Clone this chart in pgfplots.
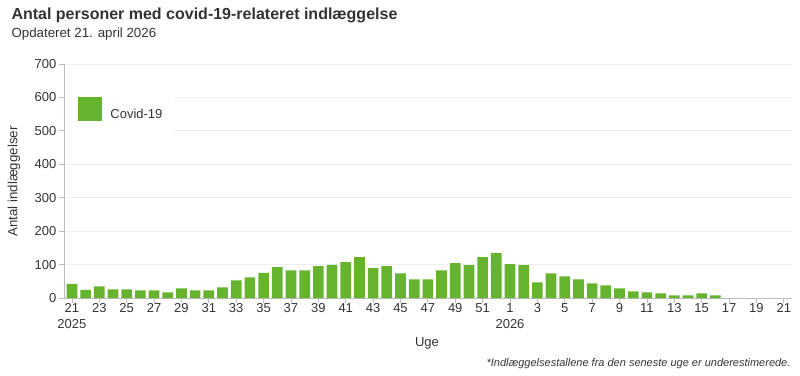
\documentclass[border=0pt]{standalone}
\usepackage{fontspec}
\setmainfont{Liberation Sans}
\usepackage{pgfplots}
\pgfplotsset{compat=1.18}
\definecolor{barg}{HTML}{66B32E}
\definecolor{gridc}{HTML}{EEEEEE}
\definecolor{axc}{HTML}{BBBBBB}
\definecolor{txt}{HTML}{333333}
\pgfplotstableread{
idx val
0 42
1 24
2 35
3 26
4 26
5 23
6 23
7 17
8 29
9 23
10 23
11 32
12 53
13 62
14 75
15 92
16 83
17 83
18 95
19 99
20 107
21 122
22 89
23 95
24 74
25 56
26 56
27 83
28 104
29 98
30 122
31 134
32 101
33 98
34 47
35 74
36 65
37 56
38 44
39 38
40 29
41 20
42 17
43 14
44 8
45 8
46 14
47 8
}\covid
\begin{document}
\begin{tikzpicture}
\path[use as bounding box] (0pt,0pt) rectangle (800pt,375pt);
\begin{axis}[
  at={(64pt,77pt)}, anchor=south west,
  scale only axis, width=728pt, height=234pt,
  xmin=-0.58, xmax=52.6, ymin=0, ymax=700,
  ybar, bar width=0.78, bar shift=0pt,
  xtick={0,2,...,52},
  xticklabels={{21\\2025},23,25,27,29,31,33,35,37,39,41,43,45,47,49,51,{1\\2026},3,5,7,9,11,13,15,17,19,21},
  ytick={0,100,...,700},
  ymajorgrids, grid style={gridc, line width=0.8pt},
  axis x line*=bottom, axis y line*=left,
  axis line style={axc, line width=0.8pt, -},
  tick style={axc, line width=0.8pt}, tick align=outside, major tick length=5pt,
  /pgf/number format/assume math mode=true,
  xticklabel style={font=\fontsize{13}{16}\selectfont, text=txt, align=center, inner sep=0.5pt},
  yticklabel style={font=\fontsize{13}{15}\selectfont, text=txt, inner sep=2.5pt},
  legend style={at={(rel axis cs:0.003,0.91)}, anchor=north west, draw=none, fill=white,
    inner xsep=12pt, inner ysep=12pt, font=\fontsize{13}{15}\selectfont, text=txt,
    nodes={inner sep=0pt}},
]
\addplot[fill=barg, draw=none,
  legend image code/.code={\fill[barg] (0pt,-7pt) rectangle (24pt,17pt); \path (32pt,0pt);}]
  table[x=idx, y=val] {\covid};
\addlegendentry{Covid-19}
\end{axis}
\node[anchor=base west, text=txt, font=\bfseries\fontsize{16}{18}\selectfont] at (8pt,355pt) {Antal personer med covid-19-relateret indlæggelse};
\node[anchor=base west, text=txt, font=\fontsize{13.3}{15}\selectfont] at (8pt,337pt) {Opdateret 21. april 2026};
\node[rotate=90, anchor=center, text=txt, font=\fontsize{13.3}{15}\selectfont] at (14pt,193.5pt) {Antal indlæggelser};
\node[anchor=center, text=txt, font=\fontsize{13}{15}\selectfont] at (427pt,32pt) {Uge};
\node[anchor=base east, text=txt, font=\itshape\fontsize{11}{13}\selectfont] at (794pt,9pt) {*Indlæggelsestallene fra den seneste uge er underestimerede.};
\end{tikzpicture}
\end{document}
